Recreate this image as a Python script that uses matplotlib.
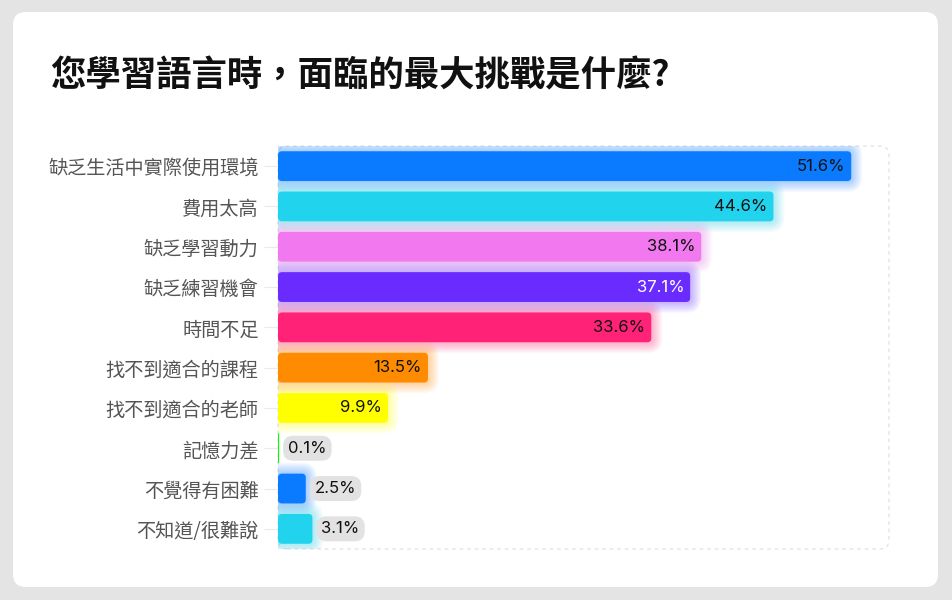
import matplotlib
matplotlib.use("Agg")
import matplotlib.pyplot as plt
from matplotlib.patches import FancyBboxPatch

# ====== Data ======
categories = ["缺乏生活中實際使用環境", "費用太高", "缺乏學習動力", "缺乏練習機會",
              "時間不足", "找不到適合的課程", "找不到適合的老師", "記憶力差",
              "不覺得有困難", "不知道/很難說"]
values = [51.6, 44.6, 38.1, 37.1, 33.6, 13.5, 9.9, 0.1, 2.5, 3.1]
colors = ["#0A7BFF", "#22D3EE", "#F178EE", "#6A2BFF", "#FF2277",
          "#FF8C00", "#FFFF00", "#00FF00", "#0A7BFF", "#22D3EE"]
label_colors = ["#111111", "#111111", "#111111", "#FFFFFF", "#111111",
                "#111111", "#111111", "#111111", "#111111", "#111111"]
title = "您學習語言時，面臨的最大挑戰是什麼?"
X_MAX = 55
# ==================

W, H = 952, 600
CJK = ["Noto Sans CJK TC", "DejaVu Sans"]
NUM = ["Inter", "Noto Sans CJK TC", "DejaVu Sans"]
plt.rcParams["font.family"] = CJK

fig = plt.figure(figsize=(W / 100, H / 100), dpi=100)
fig.patch.set_facecolor("#E4E4E4")

# --- card background + title ---
bg = fig.add_axes([0, 0, 1, 1], zorder=-1)
bg.set_xlim(0, W)
bg.set_ylim(H, 0)
bg.axis("off")
bg.add_patch(FancyBboxPatch((13, 12), 925, 575,
                            boxstyle="round,pad=0,rounding_size=13",
                            fc="white", ec="none"))
bg.text(50, 76, title, fontsize=25.5, fontweight="bold", color="#111111",
        va="center", ha="left", family=CJK)

# --- main axes ---
left, right, top, bottom = 278, 889, 146, 549
ax = fig.add_axes([left / W, 1 - bottom / H, (right - left) / W, (bottom - top) / H])
ax.set_xlim(0, X_MAX)
ax.set_ylim(len(categories) - 0.5, -0.5)
ax.set_facecolor("none")
for s in ax.spines.values():
    s.set_visible(False)
ax.set_xticks([])
ax.set_yticks(range(len(categories)))
ax.set_yticklabels(categories, fontsize=13.8, color="#555555")
ax.tick_params(axis="y", length=10, width=0.8, color="#EAEAEA", pad=4)

px_x = X_MAX / (right - left)           # data units per pixel (x)
px_y = len(categories) / (bottom - top)  # data units per pixel (y)
aspect = px_y / px_x

# dashed frame around plot area
ax.add_patch(FancyBboxPatch((0, 0), 1, 1, transform=ax.transAxes,
                            boxstyle="round,pad=0,rounding_size=0.015",
                            mutation_aspect=(right - left) / (bottom - top),
                            fc="none", ec="#E2E2E2", lw=0.9, ls=(0, (3, 3)),
                            clip_on=False))

bars = ax.barh(range(len(categories)), values, height=0.74, color="none")

for bar, v, c, tc in zip(bars, values, colors, label_colors):
    x0, y0 = bar.get_x(), bar.get_y()
    w, h = bar.get_width(), bar.get_height()
    r = min(4 * px_x, w / 2)
    # soft glow
    if w > 0.5:
        for k in range(1, 12):
            dx, dy = k * px_x, k * px_y
            ax.add_patch(FancyBboxPatch((x0 - dx, y0 - dy), w + 2 * dx, h + 2 * dy,
                                        boxstyle=f"round,pad=0,rounding_size={r + dx}",
                                        mutation_aspect=aspect, fc=c, ec="none",
                                        alpha=0.035, zorder=1))
    ax.add_patch(FancyBboxPatch((x0, y0), w, h,
                                boxstyle=f"round,pad=0,rounding_size={r}",
                                mutation_aspect=aspect, fc=c, ec="none", zorder=2))
    label = f"{v}%"
    yc = y0 + h / 2
    if v > 8:
        ax.annotate(label, (x0 + w, yc), xytext=(-6, 0), textcoords="offset pixels",
                    ha="right", va="center", fontsize=12, color=tc, family=NUM,
                    zorder=3)
    else:
        ax.annotate(label, (x0 + w, yc), xytext=(9, 0), textcoords="offset pixels",
                    ha="left", va="center", fontsize=12, color=tc, family=NUM,
                    zorder=3,
                    bbox=dict(boxstyle="round,pad=0.3,rounding_size=0.6",
                              fc="#E2E2E2", ec="none"))

fig.savefig("out.png", dpi=100, facecolor=fig.get_facecolor())
